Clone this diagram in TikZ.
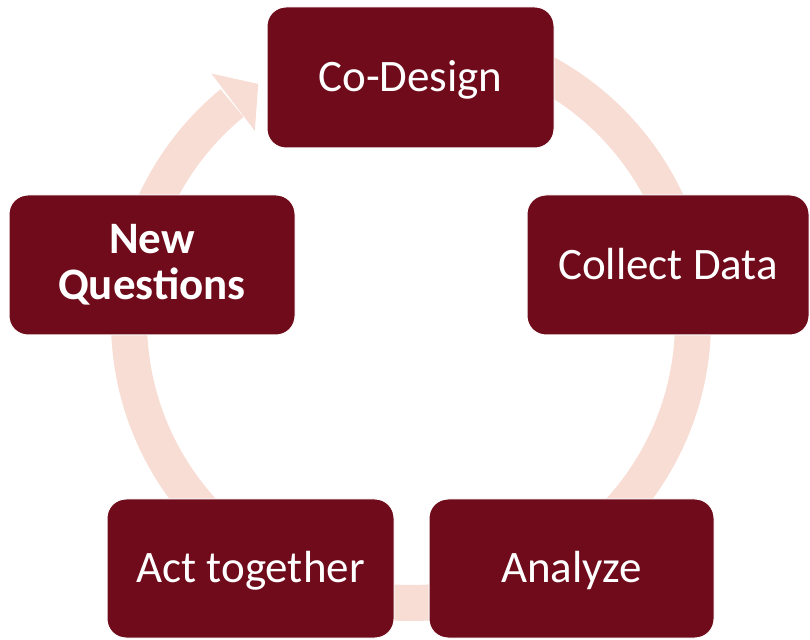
\documentclass[tikz,border=0pt]{standalone}
\usepackage{fontspec}
\setmainfont{Carlito}
\usetikzlibrary{calc}
\definecolor{boxred}{HTML}{6F0B1A}
\definecolor{ringpink}{HTML}{F8DDD4}
\begin{document}
\begin{tikzpicture}[x=1pt,y=1pt,
  stagebox/.style={rectangle, rounded corners=19pt, fill=boxred, draw=white,
    line width=1pt, text=white, font=\fontsize{45}{46}\selectfont,
    minimum width=286pt, minimum height=140pt, inner sep=0pt},
  oneline/.style={text height=29pt, text depth=0pt},
  ring/.style={draw=ringpink, line width=36pt},
  ringhead/.style={fill=ringpink}
]
\useasboundingbox (0,0) rectangle (810,639);
\coordinate (c) at (411,318);
\draw[ring] ($(c)+(90:282)$) arc[start angle=90, end angle=-230.6, radius=282];
\coordinate (barbout) at ($(c)+(128.9:318)$);
\coordinate (tip) at ($(c)+(122.8:282)$);
\coordinate (barbin) at ($(c)+(129.4:246)$);
\fill[ringhead] (barbout) -- (tip) -- (barbin) -- cycle;

\node[stagebox, oneline, minimum width=287pt, minimum height=141pt] (codesign) at (410.5,561.5) {Co-Design};
\node[stagebox, oneline, minimum width=282pt] (collect) at (668,374) {Collect Data};
\node[stagebox, minimum width=286pt, align=center,
      font=\fontsize{45}{45.7}\selectfont\bfseries] (newq) at (152,374) {New\\Questions};
\node[stagebox, oneline, minimum width=287pt, minimum height=139pt] (act) at (250.5,70.5) {Act together};
\node[stagebox, oneline, minimum width=285pt, minimum height=139pt] (analyze) at (571.5,70.5) {Analyze};
\end{tikzpicture}
\end{document}
